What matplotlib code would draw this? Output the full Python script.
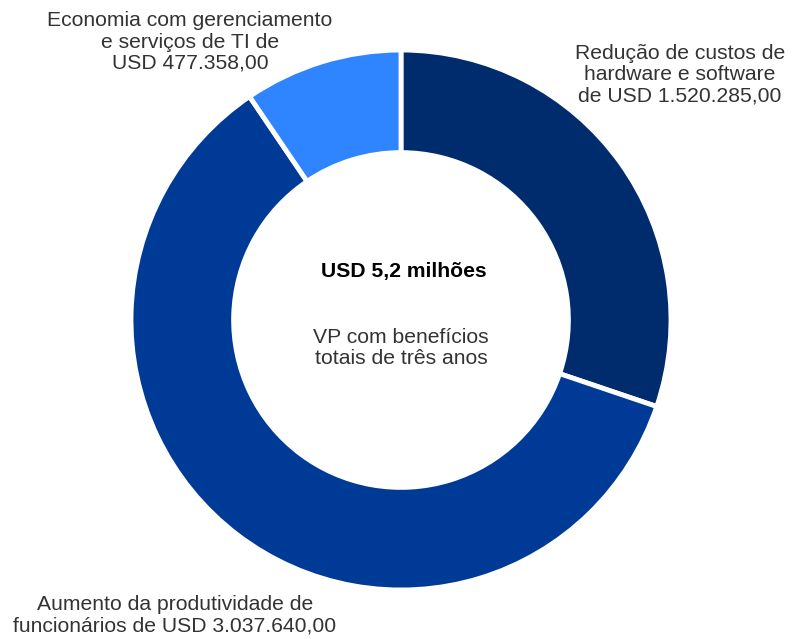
import matplotlib
matplotlib.use("Agg")
import matplotlib.pyplot as plt

plt.rcParams["font.family"] = ["Liberation Sans", "DejaVu Sans"]

labels = [
    "Redução de custos de\nhardware e software\nde USD 1.520.285,00",
    "Aumento da produtividade de\nfuncionários de USD 3.037.640,00",
    "Economia com gerenciamento\ne serviços de TI de\nUSD 477.358,00",
]
values = [1520285, 3037640, 477358]
colors = ["#002b6c", "#003a97", "#2f85ff"]
center_title = "USD 5,2 milhões"
center_sub = "VP com benefícios\ntotais de três anos"

W, H = 803, 639
fig = plt.figure(figsize=(W / 100, H / 100), dpi=100)
cx, cy, r = 401, 320, 270
ax = fig.add_axes([(cx - r) / W, (H - cy - r) / H, 2 * r / W, 2 * r / H])
ax.pie(values, colors=colors, startangle=90, counterclock=False, radius=1,
       wedgeprops=dict(width=0.38, edgecolor="white", linewidth=3.5))
ax.set_xlim(-1, 1); ax.set_ylim(-1, 1)
ax.set_aspect("equal")
ax.axis("off")


def px(x, y):
    return x / W, 1 - y / H


fs = 15.2
txt = "#333333"
fig.text(*px(680, 75), labels[0], ha="center", va="center", fontsize=fs,
         color=txt, linespacing=1.15)
fig.text(*px(175, 615), labels[1], ha="center", va="center", fontsize=fs,
         color=txt, linespacing=1.15)
fig.text(*px(190, 42), labels[2], ha="center", va="center", fontsize=fs,
         color=txt, linespacing=1.15)
fig.text(*px(404, 272), center_title, ha="center", va="center", fontsize=fs,
         fontweight="bold", color="black")
fig.text(*px(401, 348), center_sub, ha="center", va="center", fontsize=fs,
         color=txt, linespacing=1.15)

fig.savefig("out.png", dpi=100)
